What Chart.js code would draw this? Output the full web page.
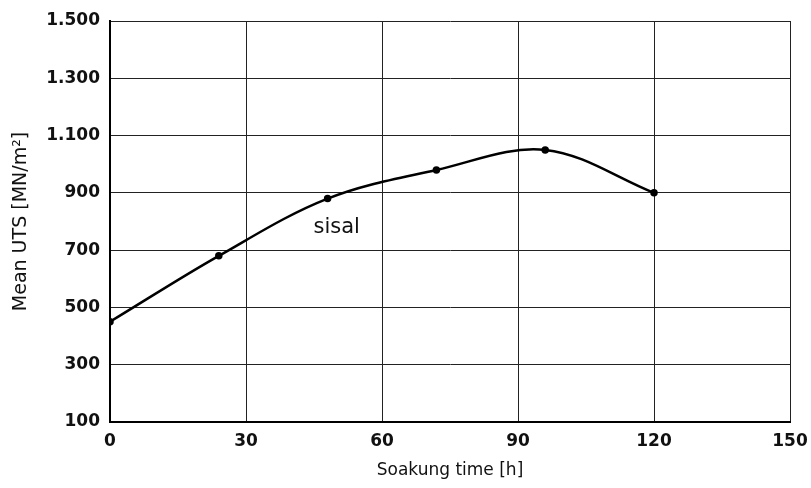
<!DOCTYPE html>
<html>
<head>
<meta charset="utf-8">
<script src="https://cdn.jsdelivr.net/npm/chart.js@4.4.0/dist/chart.umd.min.js"></script>
<style>
  html, body { margin: 0; padding: 0; background: #fff; }
  #wrap { width: 811px; height: 488px; }
</style>
</head>
<body>
<div id="wrap"><canvas id="myChart" width="811" height="488"></canvas></div>
<script>
// soaking time in hours and mean UTS
const hours = [0, 24, 48, 72, 96, 120];
const meanUts = [450, 680, 880, 980, 1050, 900];
const xTicks = [0, 30, 60, 90, 120, 150];
const yTicks = [100, 300, 500, 700, 900, 1100, 1300, 1500];
const seriesLabel = 'sisal';
const labelAt = { x: 50, y: 778 };

// 1.500 style (dot as thousands separator)
function fmt(v) {
    return v.toLocaleString('de-DE');
}

const labelPlugin = {
    id: 'seriesLabel',
    afterDatasetsDraw(chart) {
        const c = chart.ctx;
        c.save();
        c.font = '21px "DejaVu Sans"';
        c.fillStyle = '#111';
        c.textAlign = 'center';
        c.textBaseline = 'middle';
        c.fillText(seriesLabel, chart.scales.x.getPixelForValue(labelAt.x), chart.scales.y.getPixelForValue(labelAt.y));
        c.restore();
    }
};

var ctx = document.getElementById('myChart');
var myChart = new Chart(ctx, {
    type: 'line',
    data: {
        datasets: [{
            label: seriesLabel,
            data: hours.map((h, i) => ({x: h, y: meanUts[i]})),
            borderColor: '#000',
            backgroundColor: '#000',
            borderWidth: 2.5,
            pointRadius: 2.5,
            pointHoverRadius: 2.5,
            tension: 0.35
        }]
    },
    plugins: [labelPlugin],
    options: {
        responsive: false,
        animation: false,
        layout: {
            padding: {top: 21, right: 21, bottom: 0, left: 0}
        },
        plugins: {
            legend: {display: false},
            tooltip: {enabled: false}
        },
        scales: {
            x: {
                type: 'linear',
                min: 0,
                max: 150,
                afterBuildTicks: (s) => { s.ticks = xTicks.map(v => ({value: v})); },
                afterFit: (s) => { s.height = 66; s.paddingRight = 0; s.paddingLeft = 0; },
                border: {color: '#000', width: 2},
                grid: {color: '#222', lineWidth: 1, drawTicks: false},
                ticks: {
                    color: '#111',
                    padding: 9,
                    maxRotation: 0,
                    font: {family: 'DejaVu Sans', size: 17, weight: 'bold'}
                },
                title: {
                    display: true,
                    text: 'Soakung time [h]',
                    color: '#111',
                    padding: {top: 8, bottom: 7},
                    font: {family: 'DejaVu Sans', size: 17}
                }
            },
            y: {
                min: 100,
                max: 1500,
                afterBuildTicks: (s) => { s.ticks = yTicks.map(v => ({value: v})); },
                afterFit: (s) => { s.width = 110; },
                border: {color: '#000', width: 2},
                grid: {color: '#222', lineWidth: 1, drawTicks: false},
                ticks: {
                    color: '#111',
                    padding: 10,
                    callback: (v) => fmt(v),
                    font: {family: 'DejaVu Sans', size: 17, weight: 'bold'}
                },
                title: {
                    display: true,
                    text: 'Mean UTS [MN/m²]',
                    color: '#111',
                    padding: {top: 10, bottom: 4},
                    font: {family: 'DejaVu Sans', size: 19}
                }
            }
        }
    }
});
</script>
</body>
</html>
